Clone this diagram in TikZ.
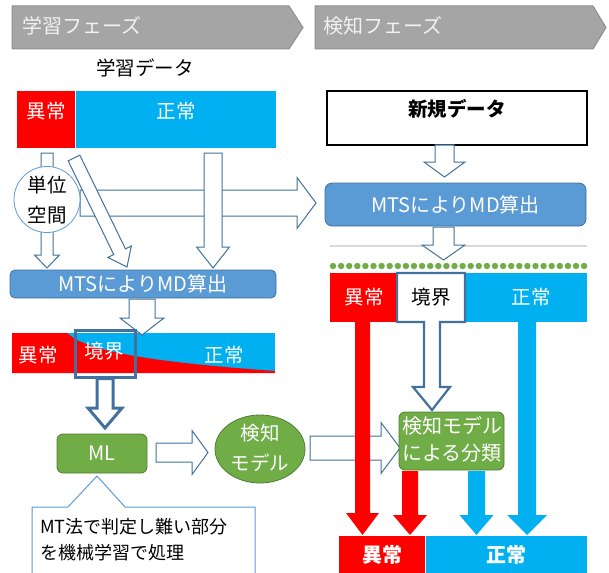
\documentclass[tikz,border=0pt]{standalone}
\usepackage{fontspec}
\setmainfont{Noto Sans CJK JP}
\definecolor{bannerfill}{HTML}{A5A5A5}
\definecolor{bannerline}{HTML}{8F8F8F}
\definecolor{bannertext}{HTML}{F2F2F2}
\definecolor{ared}{HTML}{FF0000}
\definecolor{ablue}{HTML}{00B0F0}
\definecolor{mtsfill}{HTML}{5B9BD5}
\definecolor{mtsline}{HTML}{41719C}
\definecolor{gfill}{HTML}{70AD47}
\definecolor{gline}{HTML}{507E32}
\definecolor{lgray}{HTML}{D9D9D9}
\newcommand{\blockdown}[7]{%
  \path[#1] ({#2-#6},#3) -- ({#2+#6},#3) -- ({#2+#6},#4) -- ({#2+#7},#4) -- (#2,#5) -- ({#2-#7},#4) -- ({#2-#6},#4) -- cycle;}
\newcommand{\blockright}[7]{%
  \path[#1] (#2,{#3-#6}) -- (#4,{#3-#6}) -- (#4,{#3-#7}) -- (#5,#3) -- (#4,{#3+#7}) -- (#4,{#3+#6}) -- (#2,{#3+#6}) -- cycle;}
\usetikzlibrary{shapes.geometric}
\tikzset{
  banner/.style={fill=bannerfill, draw=bannerline, line width=1pt},
  bannertxt/.style={inner sep=0pt, text=bannertext, font=\fontsize{20}{24}\selectfont},
  tx/.style={inner sep=0pt, font=\fontsize{19.5}{24}\selectfont},
  wtx/.style={tx, text=white},
  hollow/.style={draw=mtsline, fill=white, line width=1pt},
  mtsbox/.style={fill=mtsfill, draw=mtsline, line width=0.8pt, rounded corners=5pt, inner sep=0pt, text=white, font=\fontsize{20}{24}\selectfont},
  gbox/.style={fill=gfill, draw=gline, line width=0.8pt, rounded corners=6pt, inner sep=0pt},
}
\begin{document}
\begin{tikzpicture}[x=1pt,y=-1pt]
\useasboundingbox (0,0) rectangle (609,572);
\clip (0,0) rectangle (609,572);

% banners
\draw[banner] (12,6) -- (289,6) -- (303,27.5) -- (289,49) -- (12,49) -- cycle;
\node[bannertxt, anchor=west] (ph1) at (22,26) {学習フェーズ};
\draw[banner] (315,6) -- (593,6) -- (606,27.5) -- (593,49) -- (315,49) -- cycle;
\node[bannertxt, anchor=west] (ph2) at (323,26) {検知フェーズ};

% learning data
\node[tx] (ld) at (145,68) {学習データ};
\node[fill=ared, inner sep=0pt, minimum width=58, minimum height=57, anchor=north west] (lr) at (17,91) {};
\node[fill=ablue, inner sep=0pt, minimum width=200, minimum height=57, anchor=north west] (lb) at (76,91) {};
\node[wtx] (lrt) at (46,111) {異常};
\node[wtx] (lbt) at (176,111) {正常};

% arrows from learning data
\blockright{hollow}{80}{203}{297}{316}{13}{25.5}
\blockdown{hollow}{47}{153}{255}{268}{6}{12.5}
\node[circle, draw=mtsfill, fill=white, line width=0.8pt, minimum size=66, inner sep=0pt] (unit) at (47,199.5) {};
\node[tx, align=center, font=\fontsize{19.5}{30}\selectfont] (unitt) at (47,200) {単位\\空間};
\path[hollow] (68.15,160.84) -- (79.85,155.16) -- (125.45,248.86) -- (131.3,246.0) -- (127,267) -- (107.9,257.4) -- (113.75,254.5) -- cycle;
\blockdown{hollow}{213}{153}{247}{268}{9}{16.5}

% MTS left
\node[mtsbox, minimum width=266, minimum height=28] (mtsL) at (143,284) {MTSによりMD算出};

% gradient bar
\fill[ablue] (12,333) rectangle (275,373);
\fill[ared] (12,333) -- (67,333) -- (75,339) .. controls (100,352) and (150,362) .. (275,371) -- (275,373) -- (12,373) -- cycle;
\blockdown{hollow}{142}{299}{318}{335}{13}{22}
\node[wtx] (gr1) at (38,355) {異常};
\node[wtx] (gr2) at (104,351) {境界};
\node[wtx] (gr3) at (224,355) {正常};
\node[draw=mtsline, line width=3pt, minimum width=60, minimum height=47, inner sep=0pt] (bnd) at (105,353.5) {};
\blockdown{hollow, line width=3pt}{105}{378.5}{408}{428}{8}{17}

% ML
\node[gbox, minimum width=90, minimum height=39, text=white, font=\fontsize{20}{24}\selectfont] (ml) at (102,453.5) {ML};
\blockright{hollow}{156}{452.5}{192}{208}{9.5}{22}
\node[ellipse, draw=gline, fill=gfill, line width=0.8pt, minimum width=90, minimum height=68, inner sep=0pt] (ell) at (260,449) {};
\node[wtx, align=center, font=\fontsize{19.5}{30}\selectfont] (ellt) at (260,448) {検知\\モデル};

% callout
\path[draw=mtsfill, fill=white, line width=1pt] (32,600) -- (32,507) -- (68,507) -- (97,476) -- (125,507) -- (255,507) -- (255,600);
\node[inner sep=0pt, anchor=north west, align=left, font=\fontsize{18}{26}\selectfont] (call) at (40,518) {MT法で判定し難い部分\\を機械学習で処理};

% right side
\node[draw=black, line width=1.2pt, minimum width=260, minimum height=54, inner sep=0pt] (nd) at (457,118) {};
\node[tx, font=\bfseries\fontsize{19.5}{24}\selectfont] (ndt) at (457,109) {新規データ};
\blockdown{hollow}{444.5}{145}{162}{177}{9.5}{20.5}
\node[mtsbox, minimum width=261, minimum height=43, rounded corners=7pt] (mtsR) at (455.5,204.5) {MTSによりMD算出};
\draw[lgray, line width=1.2pt] (330,246) -- (587,246);
\blockdown{hollow}{443.5}{227}{245}{260}{10.5}{21.5}
\foreach \i in {0,...,31} \fill[gfill] ({333+\i*8.1},266) circle (3.2);

% classification bar
\fill[ared] (330,273) rectangle (397,322);
\fill[ablue] (466,273) rectangle (587,322);
\path[draw=mtsline, fill=white, line width=2.2pt] (397,273) -- (465,273) -- (465,322) -- (440,322) -- (440,387) -- (450,387) -- (432,410) -- (413,387) -- (424,387) -- (424,322) -- (397,322) -- cycle;
\node[wtx] (cr) at (364,297) {異常};
\node[tx] (cw) at (431,297) {境界};
\node[wtx] (cb) at (531,297) {正常};

% arrow ellipse -> detection model
\blockright{hollow}{310}{448}{381}{400}{12}{25.5}

% long arrows
\blockdown{fill=ared}{362.5}{322}{513}{535}{7.5}{16.5}
\blockdown{fill=ablue}{527}{322}{515}{535}{9}{20}

% detection model box
\node[gbox, minimum width=105, minimum height=58] (dm) at (451.5,441) {};
\node[wtx, align=center, font=\fontsize{20}{27}\selectfont] (dmt) at (452,439) {検知モデル\\による分類};
\blockdown{fill=ared}{410}{471}{515}{535}{8}{17}
\blockdown{fill=ablue}{476.5}{471}{515}{535}{8.5}{17}

% results
\fill[ared] (339,536) rectangle (425,580);
\fill[ablue] (426,536) rectangle (587,580);
\node[wtx, font=\bfseries\fontsize{20}{24}\selectfont] (rr) at (382,555) {異常};
\node[wtx, font=\bfseries\fontsize{20}{24}\selectfont] (rb) at (506,555) {正常};
\end{tikzpicture}
\end{document}
